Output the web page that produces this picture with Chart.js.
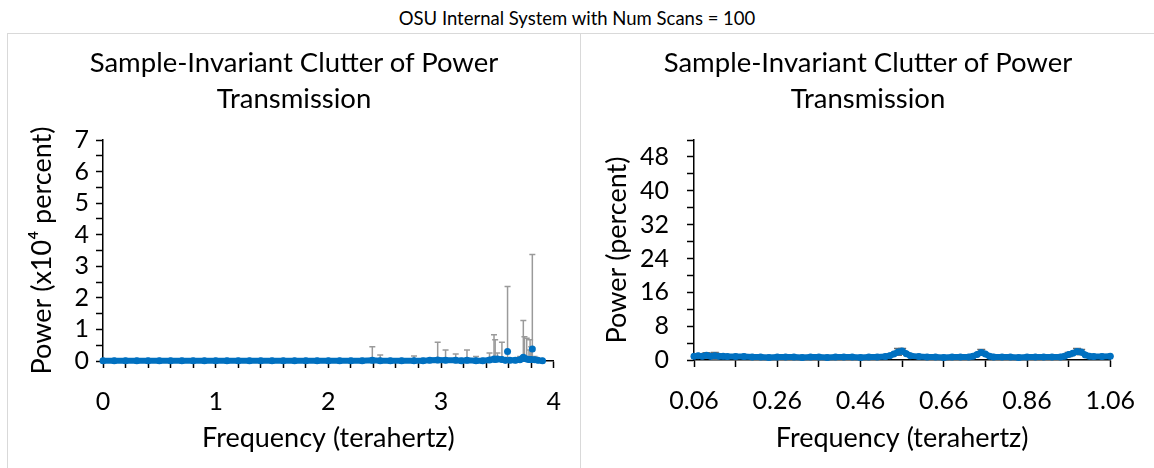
<!DOCTYPE html>
<html>
<head>
<meta charset="utf-8">
<title>OSU Internal System with Num Scans = 100</title>
<script src="https://cdn.jsdelivr.net/npm/chart.js@4.4.1/dist/chart.umd.min.js"></script>
<style>
  body { margin: 0; background: #fff; font-family: Lato, sans-serif; }
  #title { position: absolute; left: 0; top: 5px; width: 1154px; text-align: center; font-size: 18.5px; line-height: 26px; color: #000; }
  .panel { position: absolute; top: 33px; height: 440px; border: 1px solid #d9d9d9; background: #fff; }
  #leftPanel { left: 7px; width: 572px; }
  #rightPanel { left: 580px; width: 574px; }
  .subtitle { position: absolute; left: 0; top: 10px; width: 100%; text-align: center; font-size: 27.5px; line-height: 36px; color: #000; }
  canvas { position: absolute; left: 0; top: 0; }
</style>
</head>
<body>
<div id="title">OSU Internal System with Num Scans = 100</div>
<div class="panel" id="leftPanel">
  <canvas id="leftChart" width="572" height="434"></canvas>
  <div class="subtitle">Sample-Invariant Clutter of Power<br>Transmission</div>
</div>
<div class="panel" id="rightPanel">
  <canvas id="rightChart" width="573" height="434"></canvas>
  <div class="subtitle">Sample-Invariant Clutter of Power<br>Transmission</div>
</div>
<script>
// full band, power in x10^4 percent
const leftFreq = [
  0, 0.1, 0.2, 0.3, 0.4, 0.5, 0.6, 0.7, 0.8, 0.9,
  1.0, 1.1, 1.2, 1.3, 1.4, 1.5, 1.6, 1.7, 1.8, 1.9,
  2.0, 2.1, 2.2, 2.3, 2.39, 2.46, 2.55, 2.65, 2.76, 2.84,
  2.9, 2.97, 3.04, 3.13, 3.18, 3.23, 3.31, 3.37, 3.43, 3.47,
  3.48, 3.5, 3.54, 3.57, 3.59, 3.61, 3.66, 3.7, 3.73, 3.74,
  3.76, 3.78, 3.79, 3.8, 3.81, 3.83, 3.86, 3.9
];
const leftPower = [
  0.01, 0.01, 0.01, 0.01, 0.01, 0.01, 0.01, 0.01, 0.01, 0.01,
  0.01, 0.01, 0.01, 0.01, 0.01, 0.01, 0.01, 0.01, 0.01, 0.01,
  0.01, 0.01, 0.01, 0.01, 0.02, 0.01, 0.01, 0.01, 0.01, 0.01,
  0.02, 0.03, 0.02, 0.02, 0.01, 0.02, 0.01, 0.01, 0.03, 0.06,
  0.05, 0.06, 0.05, 0.02, 0.30, 0.02, 0.02, 0.04, 0.12, 0.08,
  0.06, 0.05, 0.05, 0.05, 0.38, 0.04, 0.02, 0.01
];
const leftError = [
  0, 0, 0, 0, 0, 0, 0, 0, 0, 0,
  0, 0, 0, 0, 0, 0, 0, 0, 0, 0,
  0, 0, 0, 0, 0.43, 0.18, 0, 0, 0.15, 0,
  0.04, 0.56, 0.33, 0.20, 0, 0.33, 0.13, 0.05, 0.22, 0.77,
  0.62, 0.19, 0.54, 0, 2.06, 0, 0, 0.10, 1.16, 0.69,
  0.66, 0.30, 0.62, 0.40, 2.99, 0.10, 0, 0
];

// zoomed band, power in percent
const rightFreq = [
  0.06, 0.07, 0.08, 0.09, 0.10, 0.11, 0.12, 0.13, 0.14, 0.16,
  0.18, 0.20, 0.22, 0.24, 0.26, 0.28, 0.30, 0.32, 0.34, 0.36,
  0.38, 0.40, 0.42, 0.44, 0.46, 0.48, 0.50, 0.52, 0.53, 0.54,
  0.55, 0.56, 0.57, 0.58, 0.60, 0.62, 0.64, 0.66, 0.68, 0.70,
  0.72, 0.73, 0.74, 0.75, 0.76, 0.77, 0.78, 0.80, 0.82, 0.84,
  0.86, 0.88, 0.90, 0.92, 0.94, 0.95, 0.96, 0.97, 0.98, 0.99,
  1.00, 1.01, 1.02, 1.04, 1.06
];
const rightPower = [
  0.9, 1.0, 0.9, 1.1, 0.9, 1.0, 0.9, 0.9, 0.8, 0.8,
  0.8, 0.7, 0.7, 0.6, 0.7, 0.7, 0.7, 0.6, 0.7, 0.7,
  0.6, 0.7, 0.7, 0.7, 0.6, 0.7, 0.7, 0.8, 1.0, 1.4,
  1.9, 2.1, 1.5, 1.0, 0.8, 0.7, 0.7, 0.6, 0.7, 0.7,
  0.7, 0.9, 1.3, 1.8, 1.4, 0.9, 0.7, 0.7, 0.7, 0.6,
  0.7, 0.7, 0.7, 0.7, 0.7, 0.9, 1.3, 1.6, 2.0, 1.9,
  1.2, 0.9, 0.8, 0.8, 0.9
];
const rightError = [
  0, 0.5, 0, 0.6, 0, 0.8, 0.4, 0, 0, 0,
  0, 0, 0, 0, 0, 0, 0, 0, 0, 0,
  0, 0, 0, 0, 0, 0, 0, 0, 0, 0,
  0.8, 0.6, 0, 0, 0, 0, 0, 0, 0, 0,
  0, 0, 0, 0.7, 0, 0, 0, 0, 0, 0,
  0, 0, 0, 0, 0, 0, 0.5, 0, 0.7, 0.6,
  0, 0, 0, 0, 0
];

// axis ticks
const leftXTicks = [0, 0.2, 0.4, 0.6, 0.8, 1, 1.2, 1.4, 1.6, 1.8, 2, 2.2, 2.4, 2.6, 2.8, 3, 3.2, 3.4, 3.6, 3.8, 4];
const leftXLabels = [0, 1, 2, 3, 4];
const leftYTicks = [0, 0.5, 1, 1.5, 2, 2.5, 3, 3.5, 4, 4.5, 5, 5.5, 6, 6.5, 7];
const leftYLabels = [0, 1, 2, 3, 4, 5, 6, 7];
const rightXTicks = [0.06, 0.16, 0.26, 0.36, 0.46, 0.56, 0.66, 0.76, 0.86, 0.96, 1.06];
const rightXLabels = [0.06, 0.26, 0.46, 0.66, 0.86, 1.06];
const rightYTicks = [0, 4, 8, 12, 16, 20, 24, 28, 32, 36, 40, 44, 48, 52];
const rightYLabels = [0, 8, 16, 24, 32, 40, 48];

const BLUE = '#0070c0';
const FONT = 'Lato, sans-serif';

const errorBars = {
  id: 'errorBars',
  beforeDatasetsDraw(chart, args, opts) {
    const {ctx, chartArea, scales} = chart;
    const pts = chart.data.datasets[0].data;
    ctx.save();
    ctx.beginPath();
    ctx.rect(chartArea.left, chartArea.top - 4, chartArea.width, chartArea.height + 4);
    ctx.clip();
    ctx.strokeStyle = opts.color;
    ctx.lineWidth = opts.width;
    pts.forEach((p, i) => {
      const e = opts.values[i];
      if (!e) return;
      const px = scales.x.getPixelForValue(p.x);
      const top = scales.y.getPixelForValue(p.y + e);
      const bot = scales.y.getPixelForValue(p.y - e);
      ctx.beginPath();
      ctx.moveTo(px, bot); ctx.lineTo(px, top);
      ctx.moveTo(px - opts.cap, top); ctx.lineTo(px + opts.cap, top);
      ctx.moveTo(px - opts.cap, bot); ctx.lineTo(px + opts.cap, bot);
      ctx.stroke();
    });
    ctx.restore();
  }
};

function hasLabel(list, v) {
  return list.some(l => Math.abs(l - v) < 1e-6);
}

function axis(opts) {
  return {
    type: 'linear',
    min: opts.min,
    max: opts.max,
    afterBuildTicks: s => { s.ticks = opts.ticks.map(v => ({value: v})); },
    afterFit: s => { if (opts.width) s.width = opts.width; if (opts.height) s.height = opts.height; },
    ticks: {
      autoSkip: false,
      maxRotation: 0,
      padding: opts.pad,
      color: '#000',
      font: {family: FONT, size: 25},
      callback: v => hasLabel(opts.labels, v) ? (opts.fmt ? opts.fmt(v) : String(v)) : ''
    },
    grid: {drawOnChartArea: false, drawTicks: true, tickLength: 7, tickColor: '#000', tickWidth: 1.5},
    border: {display: true, color: '#000', width: 1.5},
    title: {
      display: true,
      text: opts.title,
      color: '#000',
      font: {family: FONT, size: 27},
      padding: opts.titlePad
    }
  };
}

function makeChart(id, freq, power, errors, cfg) {
  const data = freq.map((f, i) => ({x: f, y: power[i]}));
  return new Chart(document.getElementById(id), {
    type: 'scatter',
    data: {
      datasets: [{
        data: data,
        showLine: true,
        borderColor: BLUE,
        backgroundColor: BLUE,
        borderWidth: 6,
        borderJoinStyle: 'round',
        borderCapStyle: 'round',
        pointRadius: 3.5,
        pointBorderWidth: 0,
        pointBackgroundColor: BLUE,
        clip: 8,
        segment: {
          borderColor: c => (c.p0.parsed.y > cfg.jump || c.p1.parsed.y > cfg.jump) ? 'transparent' : BLUE
        }
      }]
    },
    options: {
      responsive: false,
      devicePixelRatio: 1,
      animation: false,
      layout: {padding: {left: 0, right: cfg.padRight, top: 106, bottom: 0}},
      plugins: {
        legend: {display: false},
        tooltip: {enabled: false},
        title: {display: false},
        errorBars: {values: errors, color: cfg.errColor, width: 1.5, cap: cfg.cap}
      },
      scales: {x: cfg.x, y: cfg.y}
    },
    plugins: [errorBars]
  });
}

makeChart('leftChart', leftFreq, leftPower, leftError, {
  padRight: 17, jump: 0.15, errColor: '#9a9a9a', cap: 3,
  x: axis({min: 0, max: 4, ticks: leftXTicks, labels: leftXLabels, height: 107, pad: 19,
           title: 'Frequency (terahertz)', titlePad: {top: 0, bottom: 14}}),
  y: axis({min: 0, max: 7, ticks: leftYTicks, labels: leftYLabels, width: 95, pad: 7,
           title: 'Power (x10\u2074 percent)', titlePad: {top: 18, bottom: 0}})
});

makeChart('rightChart', rightFreq, rightPower, rightError, {
  padRight: 35, jump: 100, errColor: '#6b6b6b', cap: 4,
  x: axis({min: 0.06, max: 1.06, ticks: rightXTicks, labels: rightXLabels, height: 108, pad: 19,
           fmt: v => v.toFixed(2),
           title: 'Frequency (terahertz)', titlePad: {top: 0, bottom: 14}}),
  y: axis({min: 0, max: 52, ticks: rightYTicks, labels: rightYLabels, width: 113, pad: 18,
           title: 'Power (percent)', titlePad: {top: 20, bottom: 0}})
});
</script>
</body>
</html>
